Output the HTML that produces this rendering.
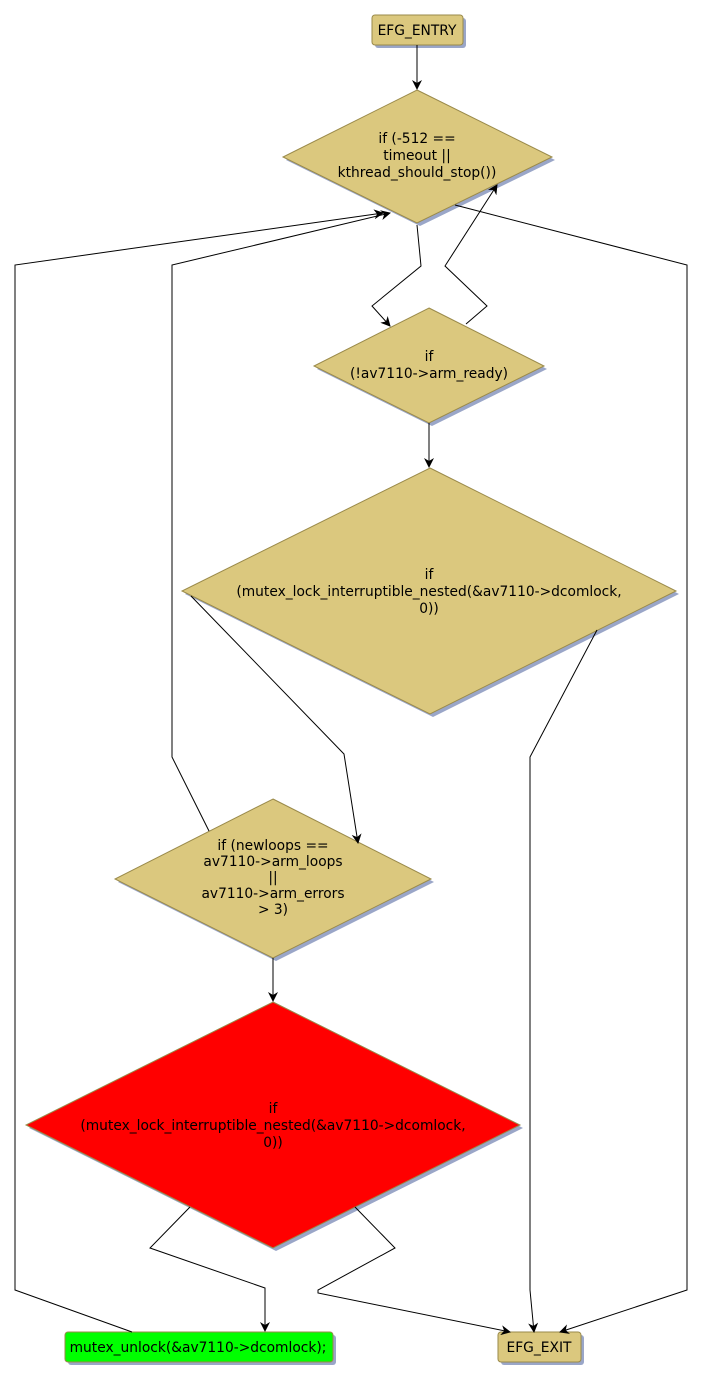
<!DOCTYPE html>
<html><head><meta charset="utf-8"><style>
html,body{margin:0;padding:0;background:#fff;}
svg{display:block;}
text{font-family:"DejaVu Sans","Liberation Sans",sans-serif;font-size:13.8px;fill:#000;}
</style></head><body>
<svg width="703" height="1381" viewBox="0 0 703 1381" xmlns="http://www.w3.org/2000/svg">
<defs>
<marker id="a" markerWidth="10" markerHeight="10" refX="9" refY="5" orient="auto" markerUnits="userSpaceOnUse">
<path d="M0,0 L10,5 L0,10 L3,5 z" fill="#000"/>
</marker>
</defs>
<g fill="#9aa6c8">
<rect x="375" y="18" width="91" height="30" rx="3"/>
<polygon points="420,93 555,160 420,226 286,160"/>
<polygon points="432,311 547,369 432,426 317,369"/>
<polygon points="433,471 679,594 433,717 185,594"/>
<polygon points="276,802 434,882 276,961 118,882"/>
<polygon points="276,1005 523,1128 276,1251 29,1128"/>
<rect x="68" y="1335" width="268" height="30" rx="3"/>
<rect x="501" y="1335" width="83" height="30" rx="3"/>
</g>
<rect x="372" y="15" width="91" height="30" rx="3" fill="#dbc87e" stroke="#9a8a4a"/>
<polygon points="417,90 552,157 417,223 283,157" fill="#dbc87e" stroke="#9a8a4a"/>
<polygon points="429,308 544,366 429,423 314,366" fill="#dbc87e" stroke="#9a8a4a"/>
<polygon points="430,468 676,591 430,714 182,591" fill="#dbc87e" stroke="#9a8a4a"/>
<polygon points="273,799 431,879 273,958 115,879" fill="#dbc87e" stroke="#9a8a4a"/>
<polygon points="273,1002 520,1125 273,1248 26,1125" fill="#ff0000" stroke="#9a8a4a"/>
<rect x="65" y="1332" width="268" height="30" rx="3" fill="#00ff00" stroke="#9a8a4a"/>
<rect x="498" y="1332" width="83" height="30" rx="3" fill="#dbc87e" stroke="#9a8a4a"/>
<g fill="none" stroke="#000" stroke-width="1">
<polyline points="417,45 417,89" marker-end="url(#a)"/>
<polyline points="417,225 421,266 372,306 390,326" marker-end="url(#a)"/>
<polyline points="466,324 487,306 445,266 497,185" marker-end="url(#a)"/>
<polyline points="455,205 687,265 687,1290 560,1332" marker-end="url(#a)"/>
<polyline points="429,423 429,467" marker-end="url(#a)"/>
<polyline points="191,596 344,754 358,843" marker-end="url(#a)"/>
<polyline points="597,630 530,757 530,1290 534,1332" marker-end="url(#a)"/>
<polyline points="209,831 172,757 172,265 390,213" marker-end="url(#a)"/>
<polyline points="273,958 273,1001" marker-end="url(#a)"/>
<polyline points="190,1207 150,1248 265,1288 265,1331" marker-end="url(#a)"/>
<polyline points="355,1207 395,1248 318,1290 318,1293 510,1332" marker-end="url(#a)"/>
<polyline points="132,1332 15,1290 15,265 383,213" marker-end="url(#a)"/>
</g>
<g text-anchor="middle">
<text x="417" y="35">EFG_ENTRY</text>
<text x="417" y="143">if (-512 ==</text>
<text x="417" y="160">timeout ||</text>
<text x="417" y="177">kthread_should_stop())</text>
<text x="429" y="361">if</text>
<text x="429" y="378">(!av7110-&gt;arm_ready)</text>
<text x="429" y="579">if</text>
<text x="429" y="596">(mutex_lock_interruptible_nested(&amp;av7110-&gt;dcomlock,</text>
<text x="429" y="613">0))</text>
<text x="273" y="850">if (newloops ==</text>
<text x="273" y="866">av7110-&gt;arm_loops</text>
<text x="273" y="882">||</text>
<text x="273" y="898">av7110-&gt;arm_errors</text>
<text x="273" y="914">&gt; 3)</text>
<text x="273" y="1113">if</text>
<text x="273" y="1130">(mutex_lock_interruptible_nested(&amp;av7110-&gt;dcomlock,</text>
<text x="273" y="1147">0))</text>
<text x="198" y="1352">mutex_unlock(&amp;av7110-&gt;dcomlock);</text>
<text x="539" y="1352">EFG_EXIT</text>
</g>
</svg>
</body></html>
